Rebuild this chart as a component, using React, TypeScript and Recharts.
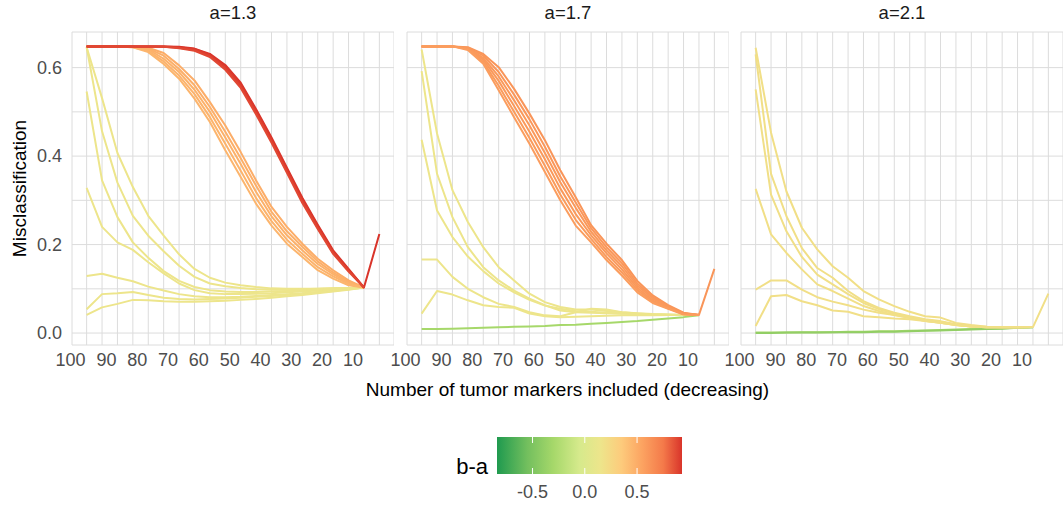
import React from 'react';
import { LineChart, Line, XAxis, YAxis, CartesianGrid } from 'recharts';

// ---------------- data ----------------
const xValues = [100, 95, 90, 85, 80, 75, 70, 65, 60, 55, 50, 45, 40, 35, 30, 25, 20, 15, 10, 5];
const xLabelValues = [100, 90, 80, 70, 60, 50, 40, 30, 20, 10];
const yTicks = [0, 0.1, 0.2, 0.3, 0.4, 0.5, 0.6];
const yLabelValues = [0, 0.2, 0.4, 0.6];
const panelTitles = ['a=1.3', 'a=1.7', 'a=2.1'];
const legendTicks = [-0.5, 0, 0.5];
const legendLimits = [-0.84, 0.93];

// colour scale for b-a
const colorStopValues = [-0.84, -0.55, -0.3, -0.05, 0.15, 0.35, 0.55, 0.75, 0.93];
const colorStopColors = ['#1f9a4f', '#73bf5e', '#a6d86a', '#d6ea8c', '#ede58b', '#fdcb7c', '#fca361', '#f47a4a', '#d9342a'];

// ---- panel a=1.3 ----
const p1YellowA = [0.646, 0.531, 0.407, 0.330, 0.265, 0.220, 0.178, 0.145, 0.125, 0.114, 0.108, 0.104, 0.101, 0.100, 0.100, 0.100, 0.101, 0.102, 0.103, null];
const p1YellowB = [0.646, 0.456, 0.340, 0.265, 0.220, 0.185, 0.152, 0.127, 0.112, 0.106, 0.102, 0.099, 0.098, 0.098, 0.099, 0.100, 0.101, 0.102, 0.103, null];
const p1YellowC = [0.546, 0.345, 0.262, 0.205, 0.170, 0.140, 0.118, 0.104, 0.097, 0.094, 0.093, 0.093, 0.094, 0.095, 0.096, 0.098, 0.100, 0.102, 0.103, null];
const p1YellowD = [0.328, 0.240, 0.205, 0.188, 0.160, 0.135, 0.112, 0.097, 0.090, 0.088, 0.088, 0.089, 0.090, 0.092, 0.094, 0.096, 0.098, 0.101, 0.103, null];
const p1YellowE = [0.129, 0.134, 0.125, 0.117, 0.105, 0.096, 0.088, 0.083, 0.081, 0.081, 0.082, 0.084, 0.086, 0.088, 0.090, 0.093, 0.096, 0.099, 0.103, null];
const p1YellowF = [0.054, 0.088, 0.090, 0.093, 0.086, 0.080, 0.077, 0.076, 0.077, 0.078, 0.080, 0.082, 0.084, 0.086, 0.089, 0.092, 0.095, 0.099, 0.103, null];
const p1YellowG = [0.041, 0.058, 0.066, 0.075, 0.074, 0.072, 0.071, 0.071, 0.072, 0.073, 0.075, 0.077, 0.080, 0.083, 0.086, 0.090, 0.094, 0.098, 0.103, null];
const p1Orange1 = [0.648, 0.648, 0.648, 0.647, 0.645, 0.633, 0.605, 0.571, 0.522, 0.469, 0.409, 0.345, 0.285, 0.240, 0.202, 0.168, 0.142, 0.119, 0.103, null];
const p1Orange2 = [0.648, 0.648, 0.648, 0.647, 0.643, 0.627, 0.597, 0.560, 0.511, 0.455, 0.395, 0.333, 0.274, 0.230, 0.195, 0.162, 0.137, 0.116, 0.103, null];
const p1Orange3 = [0.648, 0.648, 0.648, 0.647, 0.641, 0.620, 0.590, 0.550, 0.500, 0.442, 0.382, 0.319, 0.264, 0.221, 0.187, 0.156, 0.133, 0.113, 0.103, null];
const p1Orange4 = [0.648, 0.648, 0.648, 0.646, 0.638, 0.614, 0.582, 0.540, 0.488, 0.428, 0.367, 0.305, 0.253, 0.211, 0.179, 0.149, 0.128, 0.111, 0.103, null];
const p1Orange5 = [0.648, 0.648, 0.648, 0.646, 0.635, 0.608, 0.575, 0.530, 0.477, 0.413, 0.353, 0.292, 0.243, 0.202, 0.172, 0.142, 0.123, 0.108, 0.103, null];
const p1Red1 = [0.648, 0.648, 0.648, 0.648, 0.648, 0.648, 0.647, 0.643, 0.631, 0.606, 0.566, 0.506, 0.442, 0.374, 0.306, 0.245, 0.187, 0.145, 0.103, 0.224];
const p1Red2 = [0.648, 0.648, 0.648, 0.648, 0.648, 0.648, 0.646, 0.642, 0.629, 0.603, 0.562, 0.502, 0.438, 0.370, 0.302, 0.242, 0.184, 0.143, 0.103, null];
const p1Red3 = [0.648, 0.648, 0.648, 0.648, 0.648, 0.647, 0.645, 0.640, 0.627, 0.599, 0.558, 0.498, 0.434, 0.366, 0.298, 0.238, 0.182, 0.141, 0.103, null];
const p1Red4 = [0.648, 0.648, 0.648, 0.648, 0.648, 0.647, 0.644, 0.638, 0.624, 0.595, 0.554, 0.494, 0.430, 0.362, 0.294, 0.235, 0.179, 0.139, 0.103, null];
const p1Diffs = [0.15, 0.15, 0.15, 0.15, 0.15, 0.15, 0.15, 0.5, 0.49, 0.48, 0.47, 0.46, 0.93, 0.92, 0.9, 0.88];

// ---- panel a=1.7 ----
const p2Green = [0.009, 0.009, 0.010, 0.011, 0.012, 0.013, 0.014, 0.015, 0.016, 0.018, 0.019, 0.021, 0.023, 0.025, 0.027, 0.030, 0.033, 0.036, 0.040, null];
const p2Yellow1 = [0.641, 0.451, 0.323, 0.251, 0.194, 0.149, 0.119, 0.089, 0.070, 0.059, 0.053, 0.053, 0.050, 0.047, 0.045, 0.043, 0.042, 0.041, 0.041, null];
const p2Yellow2 = [0.592, 0.360, 0.262, 0.194, 0.149, 0.119, 0.096, 0.078, 0.063, 0.051, 0.047, 0.046, 0.045, 0.044, 0.043, 0.042, 0.042, 0.041, 0.041, null];
const p2Yellow3 = [0.437, 0.277, 0.217, 0.173, 0.140, 0.112, 0.092, 0.075, 0.062, 0.055, 0.050, 0.048, 0.046, 0.044, 0.043, 0.042, 0.041, 0.041, 0.041, null];
const p2Yellow4 = [0.166, 0.166, 0.127, 0.100, 0.081, 0.066, 0.059, 0.047, 0.040, 0.038, 0.047, 0.055, 0.053, 0.047, 0.044, 0.042, 0.041, 0.041, 0.041, null];
const p2Yellow5 = [0.044, 0.095, 0.087, 0.074, 0.063, 0.059, 0.057, 0.044, 0.038, 0.036, 0.037, 0.038, 0.039, 0.040, 0.040, 0.040, 0.041, 0.041, 0.041, null];
const p2Orange1 = [0.648, 0.648, 0.648, 0.646, 0.631, 0.601, 0.552, 0.496, 0.436, 0.368, 0.307, 0.244, 0.202, 0.165, 0.118, 0.085, 0.063, 0.046, 0.041, 0.145];
const p2Orange2 = [0.648, 0.648, 0.648, 0.645, 0.627, 0.590, 0.539, 0.483, 0.421, 0.354, 0.295, 0.237, 0.194, 0.158, 0.112, 0.081, 0.061, 0.045, 0.041, null];
const p2Orange3 = [0.648, 0.648, 0.648, 0.644, 0.622, 0.580, 0.526, 0.469, 0.407, 0.341, 0.283, 0.229, 0.187, 0.151, 0.107, 0.078, 0.059, 0.044, 0.041, null];
const p2Orange4 = [0.648, 0.648, 0.648, 0.643, 0.618, 0.570, 0.513, 0.455, 0.393, 0.327, 0.269, 0.221, 0.180, 0.144, 0.102, 0.074, 0.058, 0.043, 0.041, null];
const p2Orange5 = [0.648, 0.648, 0.648, 0.642, 0.613, 0.559, 0.500, 0.441, 0.378, 0.313, 0.256, 0.213, 0.172, 0.137, 0.097, 0.071, 0.056, 0.043, 0.041, null];
const p2Orange6 = [0.648, 0.648, 0.648, 0.640, 0.609, 0.549, 0.488, 0.428, 0.364, 0.300, 0.243, 0.205, 0.165, 0.130, 0.092, 0.068, 0.055, 0.042, 0.041, null];
const p2Diffs = [-0.3, 0.15, 0.15, 0.15, 0.15, 0.15, 0.62, 0.61, 0.6, 0.6, 0.59, 0.58];

// ---- panel a=2.1 ----
const p3Green1 = [0.001, 0.001, 0.001, 0.002, 0.002, 0.002, 0.003, 0.003, 0.004, 0.004, 0.005, 0.006, 0.007, 0.008, 0.009, 0.010, 0.011, 0.012, 0.013, null];
const p3Green2 = [0.000, 0.000, 0.001, 0.001, 0.001, 0.002, 0.002, 0.002, 0.003, 0.003, 0.004, 0.005, 0.006, 0.007, 0.008, 0.009, 0.010, 0.012, 0.013, null];
const p3Yellow1 = [0.645, 0.453, 0.320, 0.238, 0.189, 0.151, 0.125, 0.095, 0.076, 0.061, 0.048, 0.038, 0.035, 0.023, 0.018, 0.014, 0.0135, 0.0135, 0.0135, 0.089];
const p3Yellow2 = [0.630, 0.360, 0.264, 0.192, 0.147, 0.125, 0.095, 0.072, 0.057, 0.046, 0.038, 0.031, 0.027, 0.020, 0.016, 0.014, 0.013, 0.013, 0.0135, null];
const p3Yellow3 = [0.551, 0.313, 0.230, 0.172, 0.132, 0.110, 0.088, 0.068, 0.054, 0.044, 0.036, 0.030, 0.025, 0.019, 0.015, 0.013, 0.013, 0.013, 0.0135, null];
const p3Yellow4 = [0.326, 0.223, 0.181, 0.144, 0.110, 0.095, 0.078, 0.061, 0.050, 0.041, 0.034, 0.028, 0.023, 0.018, 0.015, 0.013, 0.013, 0.013, 0.0135, null];
const p3Yellow5 = [0.098, 0.119, 0.119, 0.098, 0.081, 0.071, 0.063, 0.053, 0.046, 0.041, 0.035, 0.027, 0.023, 0.018, 0.015, 0.013, 0.013, 0.013, 0.0135, null];
const p3Yellow6 = [0.016, 0.083, 0.086, 0.072, 0.063, 0.051, 0.048, 0.038, 0.036, 0.033, 0.031, 0.027, 0.023, 0.018, 0.015, 0.013, 0.013, 0.013, 0.0135, null];
const p3Diffs = [-0.3, -0.4, 0.2, 0.2, 0.2, 0.2, 0.2, 0.2];

const panelSeries = [
  [p1YellowA, p1YellowB, p1YellowC, p1YellowD, p1YellowE, p1YellowF, p1YellowG, p1Orange1, p1Orange2, p1Orange3, p1Orange4, p1Orange5, p1Red1, p1Red2, p1Red3, p1Red4],
  [p2Green, p2Yellow1, p2Yellow2, p2Yellow3, p2Yellow4, p2Yellow5, p2Orange1, p2Orange2, p2Orange3, p2Orange4, p2Orange5, p2Orange6],
  [p3Green1, p3Green2, p3Yellow1, p3Yellow2, p3Yellow3, p3Yellow4, p3Yellow5, p3Yellow6],
];
const panelDiffs = [p1Diffs, p2Diffs, p3Diffs];

// ---------------- helpers ----------------
function hexToRgb(h: string) {
  const n = parseInt(h.slice(1), 16);
  return [(n >> 16) & 255, (n >> 8) & 255, n & 255];
}
function colorFor(v: number) {
  const vs = colorStopValues;
  if (v <= vs[0]) return colorStopColors[0];
  if (v >= vs[vs.length - 1]) return colorStopColors[vs.length - 1];
  let i = 0;
  while (v > vs[i + 1]) i++;
  const t = (v - vs[i]) / (vs[i + 1] - vs[i]);
  const a = hexToRgb(colorStopColors[i]);
  const b = hexToRgb(colorStopColors[i + 1]);
  const c = a.map((av, k) => Math.round(av + (b[k] - av) * t));
  return `rgb(${c[0]},${c[1]},${c[2]})`;
}

function buildRows(series: (number | null)[][]) {
  return xValues.map((x, i) => {
    const row: Record<string, number | null> = { x };
    series.forEach((s, k) => {
      row['s' + k] = s[i];
    });
    return row;
  });
}

const FONT = '"Liberation Sans", Arial, Helvetica, sans-serif';
const TICK_COLOR = '#4d4d4d';
const GRID = '#dcdcdc';

const PLOT_TOP = 32;
const PLOT_H = 313;
const X_AXIS_H = 40;
const PANEL_W = 322;
const PANEL_LEFTS = [72, 407, 741];
const Y_AXIS_W = 72;
const SIDE_PAD = 24;

const renderXTick = (props: any) => {
  const { x, y, payload } = props;
  if (!xLabelValues.includes(payload.value)) return <g />;
  return (
    <text x={x - 1} y={y + 13} textAnchor="end" fontSize={18} fontFamily={FONT} fill={TICK_COLOR}>
      {payload.value}
    </text>
  );
};

const renderYTick = (props: any) => {
  const { y, payload } = props;
  if (!yLabelValues.some((v) => Math.abs(v - payload.value) < 1e-9)) return <g />;
  return (
    <text x={62} y={y} dy="0.35em" textAnchor="end" fontSize={18} fontFamily={FONT} fill={TICK_COLOR}>
      {payload.value.toFixed(1)}
    </text>
  );
};

function Panel({ index }: { index: number }) {
  const series = panelSeries[index];
  const diffs = panelDiffs[index];
  const rows = buildRows(series);
  const first = index === 0;
  const width = PANEL_W + (first ? Y_AXIS_W : SIDE_PAD);
  const left = first ? 0 : PANEL_LEFTS[index] - SIDE_PAD;
  return (
    <div style={{ position: 'absolute', left, top: 0 }}>
      <LineChart
        width={width}
        height={PLOT_TOP + PLOT_H + X_AXIS_H}
        data={rows}
        margin={{ top: PLOT_TOP, right: 0, bottom: 0, left: first ? 0 : SIDE_PAD }}
      >
        <CartesianGrid stroke={GRID} strokeWidth={1} />
        <XAxis
          dataKey="x"
          type="number"
          domain={[0.25, 104.75]}
          reversed
          ticks={xValues}
          interval={0}
          allowDataOverflow
          axisLine={false}
          tickLine={false}
          height={X_AXIS_H}
          tick={renderXTick}
        />
        <YAxis
          type="number"
          domain={[-0.027, 0.6805]}
          ticks={yTicks}
          interval={0}
          allowDataOverflow
          axisLine={false}
          tickLine={false}
          width={Y_AXIS_W}
          hide={!first}
          tick={renderYTick}
        />
        {series.map((_, k) => (
          <Line
            key={k}
            dataKey={'s' + k}
            type="linear"
            stroke={colorFor(diffs[k])}
            strokeWidth={2}
            dot={false}
            activeDot={false}
            connectNulls={false}
            isAnimationActive={false}
            strokeLinejoin="round"
          />
        ))}
      </LineChart>
    </div>
  );
}

function Overlay() {
  const barX = 497;
  const barW = 185;
  const barY = 437;
  const barH = 37;
  const [lo, hi] = legendLimits;
  const toBar = (v: number) => barX + ((v - lo) / (hi - lo)) * barW;
  const gradStops = colorStopValues.map((v, i) => ({
    offset: Math.max(0, Math.min(1, (v - lo) / (hi - lo))),
    color: colorStopColors[i],
  }));
  return (
    <svg width={1063} height={506} style={{ position: 'absolute', left: 0, top: 0, pointerEvents: 'none' }}>
      <defs>
        <linearGradient id="legendGrad" x1="0" x2="1" y1="0" y2="0">
          {gradStops.map((s, i) => (
            <stop key={i} offset={s.offset} stopColor={s.color} />
          ))}
        </linearGradient>
      </defs>
      {panelTitles.map((t, i) => (
        <text
          key={t}
          x={PANEL_LEFTS[i] + PANEL_W / 2}
          y={13}
          dy="0.35em"
          textAnchor="middle"
          fontSize={18.5}
          fontFamily={FONT}
          fill="#1a1a1a"
        >
          {t}
        </text>
      ))}
      <text
        x={567.5}
        y={389}
        dy="0.35em"
        textAnchor="middle"
        fontSize={19}
        fontFamily={FONT}
        fill="#000"
      >
        Number of tumor markers included (decreasing)
      </text>
      <text
        transform="translate(19,188.5) rotate(-90)"
        dy="0.35em"
        textAnchor="middle"
        fontSize={19}
        fontFamily={FONT}
        fill="#000"
      >
        Misclassification
      </text>
      <text x={488} y={466} dy="0.35em" textAnchor="end" fontSize={22} fontFamily={FONT} fill="#000">
        b-a
      </text>
      <rect x={barX} y={barY} width={barW} height={barH} fill="url(#legendGrad)" />
      {legendTicks.map((v) => (
        <g key={v}>
          <line x1={toBar(v)} x2={toBar(v)} y1={barY} y2={barY + 6} stroke="#fff" strokeWidth={1} />
          <line x1={toBar(v)} x2={toBar(v)} y1={barY + barH - 6} y2={barY + barH} stroke="#fff" strokeWidth={1} />
          <text
            x={toBar(v)}
            y={492}
            dy="0.35em"
            textAnchor="middle"
            fontSize={18}
            fontFamily={FONT}
            fill={TICK_COLOR}
          >
            {v.toFixed(1)}
          </text>
        </g>
      ))}
    </svg>
  );
}

export default function App() {
  return (
    <div
      style={{
        position: 'absolute',
        left: 0,
        top: 0,
        width: 1063,
        height: 506,
        background: '#fff',
        overflow: 'hidden',
        fontFamily: FONT,
      }}
    >
      {[0, 1, 2].map((i) => (
        <Panel key={i} index={i} />
      ))}
      <Overlay />
    </div>
  );
}
